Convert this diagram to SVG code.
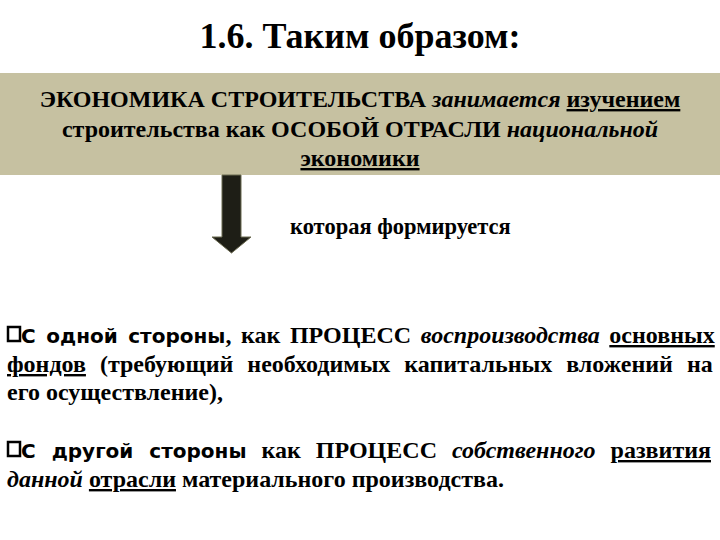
<svg xmlns="http://www.w3.org/2000/svg" width="720" height="540" viewBox="0 0 720 540">
<style>
text{font-family:"Liberation Serif",serif;font-weight:bold;fill:#000}
.i{font-style:italic}
.u{text-decoration:underline}
.c{font-family:"DejaVu Sans",sans-serif;font-size:20px}
.b{font-size:24px}
</style>
<rect width="720" height="540" fill="#fff"/>
<text x="360" y="48" font-size="36" text-anchor="middle">1.6. Таким образом:</text>
<g id="box">
<rect x="0" y="73" width="720" height="102" fill="#c6c1a1"/>
<text class="b" x="360" y="107" text-anchor="middle">ЭКОНОМИКА СТРОИТЕЛЬСТВА <tspan class="i">занимается</tspan> <tspan class="u">изучением</tspan></text>
<text class="b" x="360" y="137" text-anchor="middle">строительства как ОСОБОЙ ОТРАСЛИ <tspan class="i">национальной</tspan></text>
<text class="b u" x="360" y="166" text-anchor="middle">экономики</text>
</g>
<g id="connectors">
<path d="M222 175H241V237H251L231.5 253L212 237H222Z" fill="#1e1e16" stroke="#6b6a50" stroke-width="1"/>
</g>
<g id="label"><text x="290" y="234" font-size="22.5">которая формируется</text></g>
<g id="p1">
<rect x="8" y="327" width="12" height="14" fill="none" stroke="#000" stroke-width="2.5"/>
<text x="21" y="343" class="b" word-spacing="3.6"><tspan class="c">С одной стороны</tspan>, как ПРОЦЕСС <tspan class="i">воспроизводства</tspan> <tspan class="u">основных</tspan></text>
<text x="7" y="372" class="b" word-spacing="8"><tspan class="u">фондов</tspan> (требующий необходимых капитальных вложений на</text>
<text x="7" y="400" class="b">его осуществление),</text>
</g>
<g id="p2">
<rect x="8" y="442" width="12" height="14" fill="none" stroke="#000" stroke-width="2.5"/>
<text x="21" y="458" class="b" word-spacing="9"><tspan class="c">С другой стороны</tspan> как ПРОЦЕСС <tspan class="i">собственного</tspan> <tspan class="u">развития</tspan></text>
<text x="7" y="487" class="b"><tspan class="i">данной</tspan> <tspan class="u">отрасли</tspan> материального производства.</text>
</g>
</svg>
